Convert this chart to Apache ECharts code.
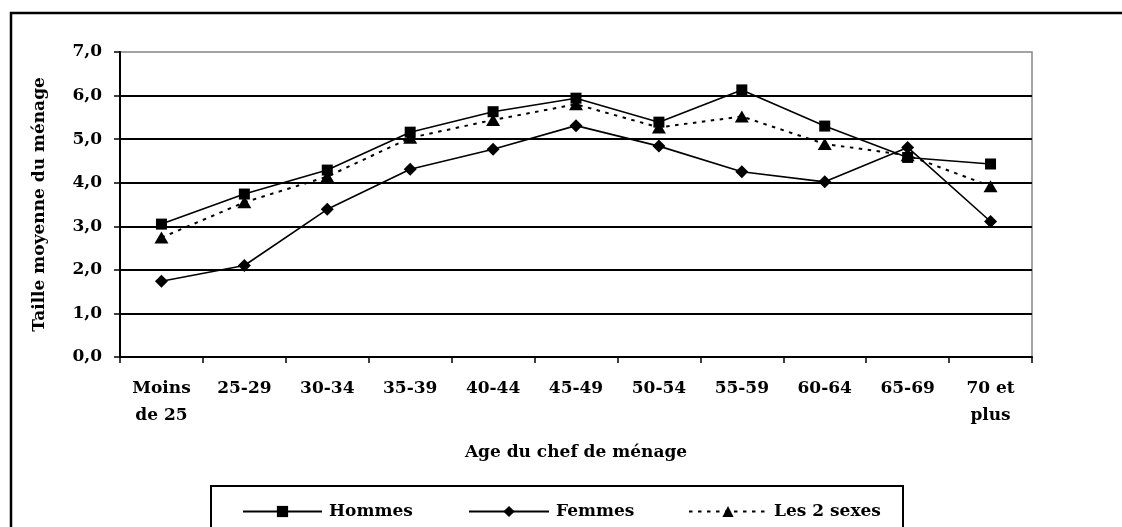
<!DOCTYPE html>
<html>
<head>
<meta charset="utf-8">
<script src="https://cdn.jsdelivr.net/npm/echarts@6/dist/echarts.min.js"></script>
<style>
  html, body { margin: 0; padding: 0; background: #fff; }
  #chart { width: 1122px; height: 527px; }
</style>
</head>
<body>
<div id="chart"></div>
<script>
const categories = ['Moins\nde 25', '25-29', '30-34', '35-39', '40-44', '45-49', '50-54', '55-59', '60-64', '65-69', '70 et\nplus'];
const hommes = [3.05, 3.74, 4.29, 5.16, 5.63, 5.94, 5.39, 6.13, 5.30, 4.58, 4.43];
const femmes = [1.74, 2.10, 3.39, 4.31, 4.77, 5.31, 4.84, 4.25, 4.02, 4.81, 3.11];
const lesDeuxSexes = [2.74, 3.55, 4.14, 5.03, 5.44, 5.80, 5.27, 5.52, 4.89, 4.63, 3.92];
const yTicks = [0, 1, 2, 3, 4, 5, 6, 7];
const seriesNames = ['Hommes', 'Femmes', 'Les 2 sexes'];
const xAxisTitle = 'Age du chef de ménage';
const yAxisTitle = 'Taille moyenne du ménage';

const FONT = 'DejaVu Serif';
const txt = { fontFamily: FONT, fontWeight: 'bold', fontSize: 17, color: '#000' };

const chart = echarts.init(document.getElementById('chart'), null, { renderer: 'canvas' });

function legendAt(name, left, width) {
  return {
    data: [name],
    left: left,
    top: 498,
    orient: 'horizontal',
    itemWidth: width,
    itemHeight: 14,
    itemGap: 0,
    selectedMode: false,
    textStyle: Object.assign({}, txt, { padding: [0, 0, 0, 2] })
  };
}

const option = {
  backgroundColor: '#fff',
  animation: false,
  grid: {
    left: 120, right: 90, top: 52, bottom: 170,
    show: true, borderColor: '#858585', borderWidth: 1.5, backgroundColor: 'transparent'
  },
  xAxis: {
    type: 'category',
    data: categories,
    boundaryGap: true,
    name: xAxisTitle,
    nameLocation: 'middle',
    nameGap: 86,
    nameTextStyle: Object.assign({}, txt, { lineHeight: 20 }),
    axisLine: { lineStyle: { color: '#000', width: 2 } },
    axisTick: { show: true, inside: false, length: 6, lineStyle: { color: '#000', width: 1.5 } },
    axisLabel: Object.assign({}, txt, { interval: 0, margin: 18, lineHeight: 27 }),
    splitLine: { show: false }
  },
  yAxis: {
    type: 'value',
    min: yTicks[0],
    max: yTicks[yTicks.length - 1],
    interval: 1,
    name: yAxisTitle,
    nameLocation: 'middle',
    nameRotate: 90,
    nameGap: 72,
    nameTextStyle: txt,
    axisLine: { show: true, lineStyle: { color: '#000', width: 2 } },
    axisTick: { show: true, inside: false, length: 6, lineStyle: { color: '#000', width: 1.5 } },
    axisLabel: Object.assign({}, txt, {
      margin: 18,
      formatter: v => v.toFixed(1).replace('.', ',')
    }),
    splitLine: { show: true, showMinLine: false, showMaxLine: false, lineStyle: { color: '#000', width: 2 } }
  },
  legend: [
    legendAt(seriesNames[0], 237, 79),
    legendAt(seriesNames[1], 463, 80),
    legendAt(seriesNames[2], 683, 78)
  ],
  graphic: [
    {
      type: 'polyline',
      shape: { points: [[11, 560], [11, 13], [1140, 13]] },
      style: { stroke: '#000', lineWidth: 2.5, fill: null },
      silent: true
    },
    {
      type: 'rect',
      shape: { x: 211, y: 486, width: 692, height: 70 },
      style: { stroke: '#000', lineWidth: 2, fill: null },
      silent: true,
      z: 0
    }
  ],
  series: [
    {
      name: seriesNames[0],
      type: 'line',
      data: hommes,
      symbol: 'rect',
      symbolSize: 11,
      showAllSymbol: true,
      lineStyle: { color: '#000', width: 1.6, type: 'solid' },
      itemStyle: { color: '#000' },
      z: 3
    },
    {
      name: seriesNames[1],
      type: 'line',
      data: femmes,
      symbol: 'diamond',
      symbolSize: 13,
      showAllSymbol: true,
      lineStyle: { color: '#000', width: 1.6, type: 'solid' },
      itemStyle: { color: '#000' },
      z: 3
    },
    {
      name: seriesNames[2],
      type: 'line',
      data: lesDeuxSexes,
      symbol: 'triangle',
      symbolSize: [14, 12],
      showAllSymbol: true,
      lineStyle: { color: '#000', width: 2, type: [3.5, 5.5] },
      itemStyle: { color: '#000' },
      z: 2
    }
  ]
};

chart.setOption(option);
</script>
</body>
</html>
